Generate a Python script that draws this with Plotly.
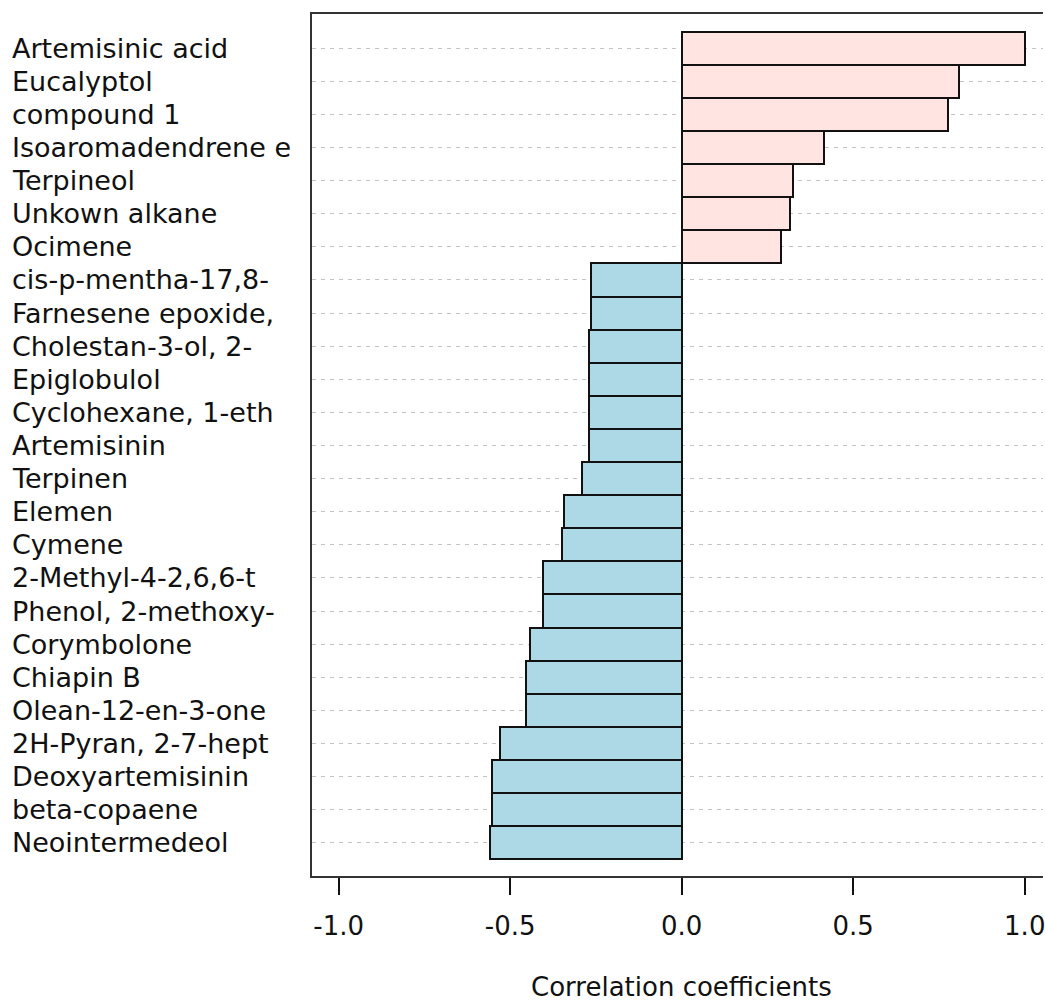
import plotly.graph_objects as go

# Compounds ranked by their correlation coefficient
compounds = [
    "Artemisinic acid", "Eucalyptol", "compound 1", "Isoaromadendrene e",
    "Terpineol", "Unkown alkane", "Ocimene", "cis-p-mentha-17,8-",
    "Farnesene epoxide,", "Cholestan-3-ol, 2-", "Epiglobulol",
    "Cyclohexane, 1-eth", "Artemisinin", "Terpinen", "Elemen", "Cymene",
    "2-Methyl-4-2,6,6-t", "Phenol, 2-methoxy-", "Corymbolone", "Chiapin B",
    "Olean-12-en-3-one", "2H-Pyran, 2-7-hept", "Deoxyartemisinin",
    "beta-copaene", "Neointermedeol",
]
coefficients = [
    1.000, 0.809, 0.775, 0.416, 0.324, 0.317, 0.289, -0.264,
    -0.264, -0.270, -0.270, -0.270, -0.270, -0.291, -0.342, -0.350,
    -0.405, -0.405, -0.441, -0.454, -0.454, -0.531, -0.552, -0.552, -0.560,
]
tick_values = [-1.0, -0.5, 0.0, 0.5, 1.0]
tick_labels = ["-1.0", "-0.5", "0.0", "0.5", "1.0"]
axis_title = "Correlation coefficients"

POS_COLOR = "#FFE4E1"
NEG_COLOR = "#ADD8E6"
FONT = "DejaVu Sans"

rows = list(range(len(compounds)))
colors = [POS_COLOR if v >= 0 else NEG_COLOR for v in coefficients]

fig = go.Figure(
    go.Bar(
        x=coefficients,
        y=rows,
        orientation="h",
        width=1.0,
        marker=dict(color=colors, line=dict(color="#111111", width=2)),
        hoverinfo="skip",
    )
)

# Left-aligned compound names next to each bar row
for i, name in zip(rows, compounds):
    fig.add_annotation(
        x=0, xref="paper", xanchor="left", xshift=-302,
        y=i, yref="y", yanchor="middle",
        text=name, showarrow=False,
        font=dict(family=FONT, size=27, color="#111111"),
    )

fig.add_annotation(
    x=0, xref="x", xanchor="center",
    y=0, yref="paper", yanchor="middle", yshift=-111,
    text=axis_title, showarrow=False,
    font=dict(family=FONT, size=26, color="#111111"),
)

fig.update_layout(
    width=1045,
    height=1001,
    margin=dict(l=312, r=0, t=14, b=125),
    paper_bgcolor="white",
    plot_bgcolor="white",
    showlegend=False,
    bargap=0,
)

fig.update_xaxes(
    range=[-1.0776, 1.0532],
    tickvals=tick_values,
    ticktext=tick_labels,
    ticks="outside",
    ticklen=17,
    tickwidth=2,
    tickcolor="#111111",
    ticklabelstandoff=9,
    ticklabeloverflow="allow",
    tickfont=dict(family=FONT, size=26, color="#111111"),
    showgrid=False,
    zeroline=False,
    showline=True,
    linecolor="#333333",
    linewidth=2,
    mirror=True,
)

fig.update_yaxes(
    range=[25.005, -1.035],
    tickvals=rows,
    showticklabels=False,
    ticks="",
    showgrid=True,
    gridcolor="#c4c4c4",
    gridwidth=1,
    griddash="4px,5px",
    zeroline=False,
    showline=True,
    linecolor="#333333",
    linewidth=2,
)

fig.write_html("out.html")
